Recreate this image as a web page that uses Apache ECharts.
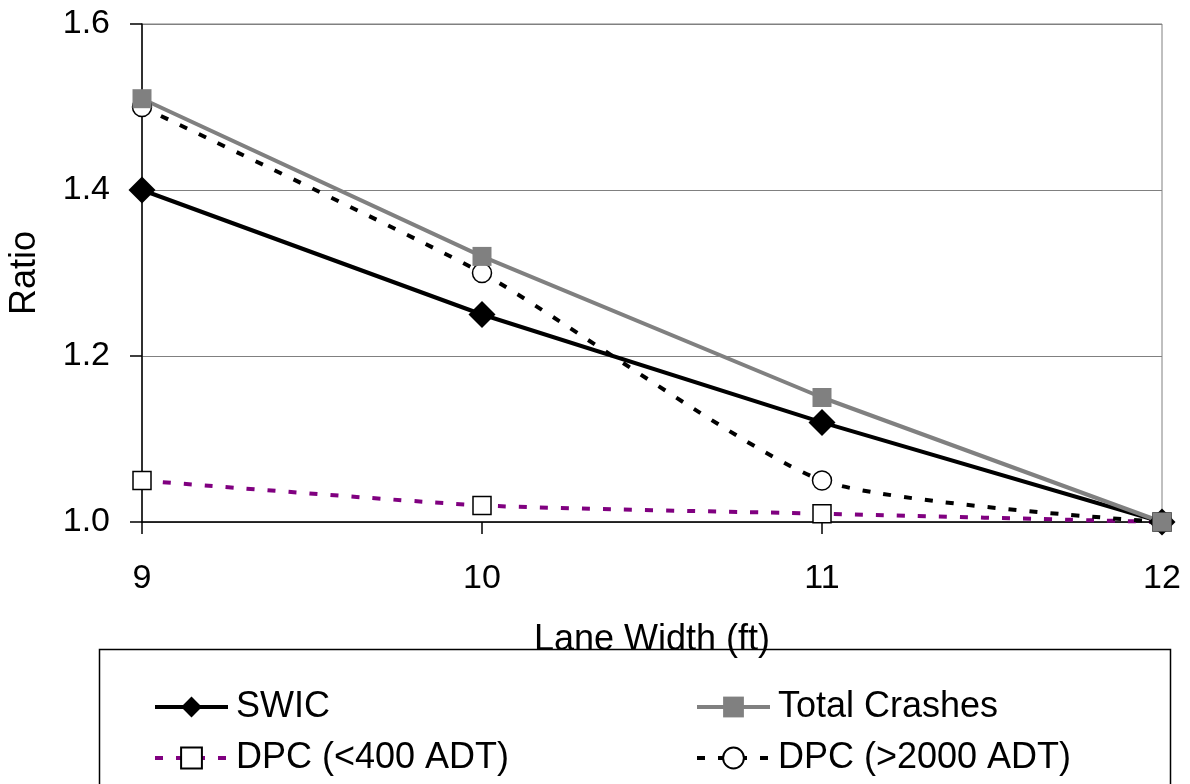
<!DOCTYPE html>
<html><head><meta charset="utf-8">
<script src="https://cdn.jsdelivr.net/npm/echarts@6/dist/echarts.min.js"></script>
<style>html,body{margin:0;padding:0;background:#fff}#c{width:1190px;height:784px}</style>
</head><body><div id="c"></div>
<script>
const laneWidth = [9, 10, 11, 12];
const swic = [1.40, 1.25, 1.12, 1.00];
const totalCrashes = [1.51, 1.32, 1.15, 1.00];
const dpcLow = [1.05, 1.02, 1.01, 1.00];
const dpcHigh = [1.50, 1.30, 1.05, 1.00];
const names = ['SWIC', 'Total Crashes', 'DPC (<400 ADT)', 'DPC (>2000 ADT)'];

const pairs = arr => laneWidth.map((x, i) => [x, arr[i]]);
const FONT = 'Liberation Sans, Arial, sans-serif';
const chart = echarts.init(document.getElementById('c'));
const legendBase = { orient: 'vertical', top: 689, padding: 0, itemWidth: 73, itemHeight: 26, itemGap: 15,
  lineStyle: { width: 4 }, textStyle: { fontFamily: FONT, fontSize: 36, color: '#000', padding: [0, 0, 0, 3] } };
chart.setOption({
  animation: false,
  backgroundColor: '#fff',
  grid: { left: 142, right: 28, top: 24, bottom: 262, outerBoundsMode: 'none', containLabel: false,
    show: true, borderColor: '#808080', borderWidth: 1 },
  xAxis: {
    type: 'value', min: 9, max: 12, interval: 1,
    name: 'Lane Width (ft)', nameLocation: 'middle', nameGap: 100,
    nameTextStyle: { fontFamily: FONT, fontSize: 36, color: '#000' },
    axisLine: { lineStyle: { color: '#000', width: 1.5 } },
    axisTick: { show: true, length: 12, inside: false, lineStyle: { color: '#000', width: 1.5 } },
    axisLabel: { fontFamily: FONT, fontSize: 34, color: '#000', margin: 40 },
    splitLine: { show: false }
  },
  yAxis: {
    type: 'value', min: 1.0, max: 1.6, interval: 0.2,
    name: 'Ratio', nameLocation: 'middle', nameGap: 99,
    nameTextStyle: { fontFamily: FONT, fontSize: 36, color: '#000' },
    axisLine: { show: true, lineStyle: { color: '#000', width: 1.5 } },
    axisTick: { show: true, length: 12, inside: false, lineStyle: { color: '#000', width: 1.5 } },
    axisLabel: { fontFamily: FONT, fontSize: 34, color: '#000', margin: 32, formatter: v => v.toFixed(1) },
    splitLine: { show: true, lineStyle: { color: '#808080', width: 1 } }
  },
  legend: [
    Object.assign({ left: 153, data: [names[0], names[2]] }, legendBase),
    Object.assign({ left: 695, data: [names[1], names[3]] }, legendBase)
  ],
  graphic: [{ type: 'rect', left: 97, top: 647, shape: { width: 1071, height: 160 },
    style: { fill: 'none', stroke: '#000', lineWidth: 1.5 } }],
  series: [
    { name: names[2], type: 'line', data: pairs(dpcLow), smooth: 0.2,
      symbol: 'rect', symbolSize: 18,
      lineStyle: { color: '#800080', width: 4, type: [8, 13] },
      itemStyle: { color: '#fff', borderColor: '#000', borderWidth: 1.5 } },
    { name: names[3], type: 'line', data: pairs(dpcHigh), smooth: 0.2,
      symbol: 'circle', symbolSize: 19,
      lineStyle: { color: '#000', width: 4, type: [8, 13] },
      itemStyle: { color: '#fff', borderColor: '#000', borderWidth: 1.5 } },
    { name: names[0], type: 'line', data: pairs(swic),
      symbol: 'diamond', symbolSize: 27,
      lineStyle: { color: '#000', width: 4 },
      itemStyle: { color: '#000' } },
    { name: names[1], type: 'line', data: pairs(totalCrashes),
      symbol: 'rect', symbolSize: 19,
      lineStyle: { color: '#808080', width: 4 },
      itemStyle: { color: '#808080' } }
  ]
});
</script></body></html>
